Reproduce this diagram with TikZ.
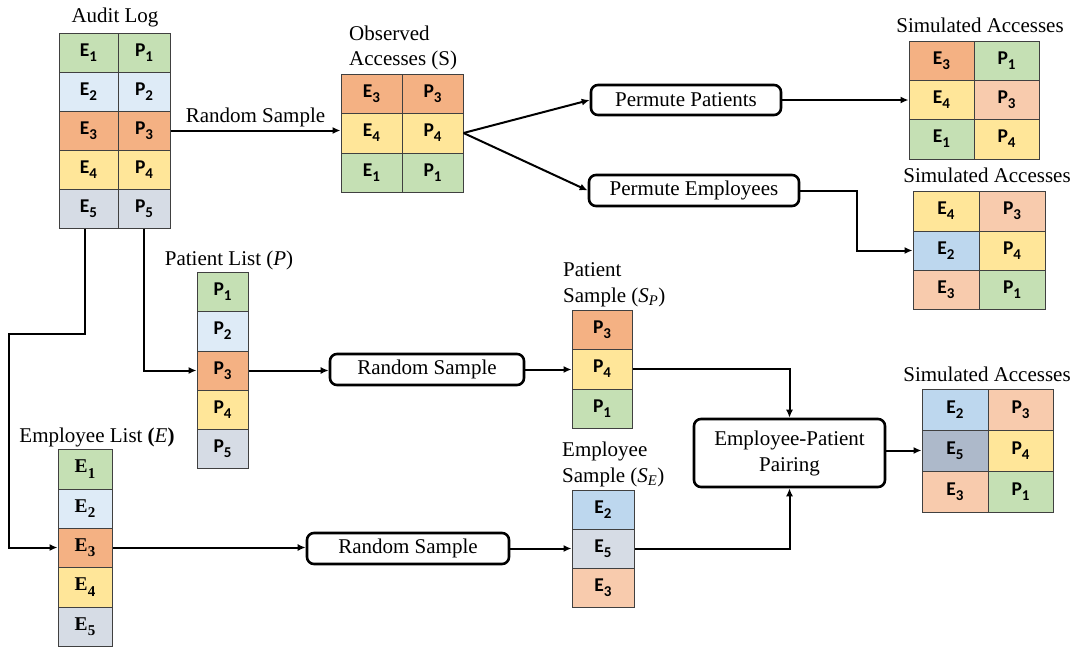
\documentclass[tikz,border=0pt]{standalone}
\usepackage{fontspec}
\setmainfont{Liberation Serif}
\newfontfamily\calib{Carlito}
\usetikzlibrary{arrows.meta}
\definecolor{cgreen}{HTML}{C5E0B4}
\definecolor{clblue}{HTML}{DEEBF7}
\definecolor{corange}{HTML}{F4B183}
\definecolor{cyellow}{HTML}{FFE699}
\definecolor{cgrey}{HTML}{D6DCE5}
\definecolor{cpeach}{HTML}{F8CBAD}
\definecolor{cblue}{HTML}{BDD7EE}
\definecolor{cslate}{HTML}{ADB9CA}
\definecolor{cborder}{HTML}{404040}
\newcommand\sbs[1]{\raisebox{-0.27em}{\fontsize{15}{15}\selectfont #1}}
\newcommand\cl[2]{{\calib\bfseries #1\sbs{#2}}}
\newcommand\tl[2]{{\bfseries #1\sbs{#2}}}
\newcommand\tcell[7]{\node[cellbox, fill=#6, minimum width={(#3-#2)*1pt}, minimum height={(#5-#4)*1pt}] (#1) at ({(#2+#3)/2},{(#4+#5)/2}) {#7};}
\tikzset{
  cellbox/.style={draw=cborder, line width=1pt, inner sep=0pt, font=\fontsize{19.5}{19.5}\selectfont},
  rbox/.style={draw=black, line width=2.6pt, rounded corners=7pt, inner sep=0pt, align=center, font=\fontsize{21}{26}\selectfont},
  lbl/.style={inner sep=0pt, font=\fontsize{21}{26}\selectfont},
  arr/.style={line width=2pt, -{Latex[length=8pt,width=7pt]}}
}
\begin{document}
\begin{tikzpicture}[x=1pt,y=-1pt]
\fill[white] (0,0) rectangle (1081,648);
\useasboundingbox (0,0) rectangle (1081,648);

% Audit log
\node[lbl, anchor=base] (tAudit) at (115,22) {Audit Log};
\tcell{aE1}{59}{118}{33}{72}{cgreen}{\cl{E}{1}}
\tcell{aP1}{118}{170}{33}{72}{cgreen}{\cl{P}{1}}
\tcell{aE2}{59}{118}{72}{111}{clblue}{\cl{E}{2}}
\tcell{aP2}{118}{170}{72}{111}{clblue}{\cl{P}{2}}
\tcell{aE3}{59}{118}{111}{150}{corange}{\cl{E}{3}}
\tcell{aP3}{118}{170}{111}{150}{corange}{\cl{P}{3}}
\tcell{aE4}{59}{118}{150}{189}{cyellow}{\cl{E}{4}}
\tcell{aP4}{118}{170}{150}{189}{cyellow}{\cl{P}{4}}
\tcell{aE5}{59}{118}{189}{228}{cgrey}{\cl{E}{5}}
\tcell{aP5}{118}{170}{189}{228}{cgrey}{\cl{P}{5}}

% Observed accesses
\node[lbl, anchor=base west] (tObs1) at (349,40) {Observed};
\node[lbl, anchor=base west] (tObs2) at (349,65) {Accesses (S)};
\tcell{oE3}{341}{402}{74}{113}{corange}{\cl{E}{3}}
\tcell{oP3}{402}{463}{74}{113}{corange}{\cl{P}{3}}
\tcell{oE4}{341}{402}{113}{153}{cyellow}{\cl{E}{4}}
\tcell{oP4}{402}{463}{113}{153}{cyellow}{\cl{P}{4}}
\tcell{oE1}{341}{402}{153}{192}{cgreen}{\cl{E}{1}}
\tcell{oP1}{402}{463}{153}{192}{cgreen}{\cl{P}{1}}

% Permute boxes
\node[rbox, minimum width=190pt, minimum height=30pt] (permP) at (686,100) {Permute Patients};
\node[rbox, minimum width=210pt, minimum height=31pt] (permE) at (694,190.5) {Permute Employees};

% Simulated 1
\node[lbl, anchor=base] (tSim1) at (980,32) {Simulated Accesses};
\tcell{s1ae}{909}{974}{41}{80}{corange}{\cl{E}{3}}
\tcell{s1ap}{974}{1039}{41}{80}{cgreen}{\cl{P}{1}}
\tcell{s1be}{909}{974}{80}{119}{cyellow}{\cl{E}{4}}
\tcell{s1bp}{974}{1039}{80}{119}{cpeach}{\cl{P}{3}}
\tcell{s1ce}{909}{974}{119}{159}{cgreen}{\cl{E}{1}}
\tcell{s1cp}{974}{1039}{119}{159}{cyellow}{\cl{P}{4}}

% Simulated 2
\node[lbl, anchor=base] (tSim2) at (987,182) {Simulated Accesses};
\tcell{s2ae}{913}{979}{191}{231}{cyellow}{\cl{E}{4}}
\tcell{s2ap}{979}{1045}{191}{231}{cpeach}{\cl{P}{3}}
\tcell{s2be}{913}{979}{231}{270}{cblue}{\cl{E}{2}}
\tcell{s2bp}{979}{1045}{231}{270}{cyellow}{\cl{P}{4}}
\tcell{s2ce}{913}{979}{270}{309}{cpeach}{\cl{E}{3}}
\tcell{s2cp}{979}{1045}{270}{309}{cgreen}{\cl{P}{1}}

% Patient list
\node[lbl, anchor=base] (tPL) at (229,265) {Patient List (\textit{P})};
\tcell{pP1}{197}{248}{272}{311}{cgreen}{\cl{P}{1}}
\tcell{pP2}{197}{248}{311}{351}{clblue}{\cl{P}{2}}
\tcell{pP3}{197}{248}{351}{390}{corange}{\cl{P}{3}}
\tcell{pP4}{197}{248}{390}{429}{cyellow}{\cl{P}{4}}
\tcell{pP5}{197}{248}{429}{468}{cgrey}{\cl{P}{5}}

% Employee list
\node[lbl, anchor=base] (tEL) at (97,442) {Employee List \textbf{(}\textit{E}\textbf{)}};
\tcell{eE1}{58}{112}{449}{489}{cgreen}{\tl{E}{1}}
\tcell{eE2}{58}{112}{489}{528}{clblue}{\tl{E}{2}}
\tcell{eE3}{58}{112}{528}{567}{corange}{\tl{E}{3}}
\tcell{eE4}{58}{112}{567}{607}{cyellow}{\tl{E}{4}}
\tcell{eE5}{58}{112}{607}{646}{cgrey}{\tl{E}{5}}

% Random sample boxes
\node[rbox, minimum width=194pt, minimum height=31pt] (rs1) at (427,369.5) {Random Sample};
\node[rbox, minimum width=202pt, minimum height=31pt] (rs2) at (408,548.5) {Random Sample};

% Patient sample
\node[lbl, anchor=base west] (tPS1) at (563,276) {Patient};
\node[lbl, anchor=base west] (tPS2) at (563,302) {Sample (\textit{S}\textsubscript{\textit{P}})};
\tcell{psP3}{572}{632}{310}{349}{corange}{\cl{P}{3}}
\tcell{psP4}{572}{632}{349}{389}{cyellow}{\cl{P}{4}}
\tcell{psP1}{572}{632}{389}{428}{cgreen}{\cl{P}{1}}

% Employee sample
\node[lbl, anchor=base west] (tES1) at (562,456) {Employee};
\node[lbl, anchor=base west] (tES2) at (562,482) {Sample (\textit{S}\textsubscript{\textit{E}})};
\tcell{esE2}{572}{634}{490}{529}{cblue}{\cl{E}{2}}
\tcell{esE5}{572}{634}{529}{568}{cgrey}{\cl{E}{5}}
\tcell{esE3}{572}{634}{568}{607}{cpeach}{\cl{E}{3}}

% Pairing
\node[rbox, minimum width=191pt, minimum height=68pt] (pair) at (789.5,453) {Employee-Patient\\Pairing};

% Simulated 3
\node[lbl, anchor=base] (tSim3) at (987,381) {Simulated Accesses};
\tcell{s3ae}{922}{988}{389}{430}{cblue}{\cl{E}{2}}
\tcell{s3ap}{988}{1053}{389}{430}{cpeach}{\cl{P}{3}}
\tcell{s3be}{922}{988}{430}{471}{cslate}{\cl{E}{5}}
\tcell{s3bp}{988}{1053}{430}{471}{cyellow}{\cl{P}{4}}
\tcell{s3ce}{922}{988}{471}{512}{cpeach}{\cl{E}{3}}
\tcell{s3cp}{988}{1053}{471}{512}{cgreen}{\cl{P}{1}}

% Connectors
\draw[arr] (aP3.east) -- (aP3.east -| oE4.west)
  node[lbl, pos=0.5, anchor=base, yshift=8pt] (lRS) {Random Sample};
\draw[arr] (oP4.east) -- (permP.west);
\draw[arr] (oP4.east) -- (permE.west);
\draw[arr] (permP.east) -- (permP.east -| s1be.west);
\draw[arr] (permE.east) -- ++(57,0) |- (s2be.west);
\draw[arr] ([xshift=-3.5pt]aE5.south) -- ++(0,105) -- ++(-76,0) |- (eE3.west);
\draw[arr] (aP5.south) |- (pP3.west);
\draw[arr] (pP3.east) -- (pP3.east -| rs1.west);
\draw[arr] (rs1.east) -- (rs1.east -| psP4.west);
\draw[arr] (eE3.east) -- (eE3.east -| rs2.west);
\draw[arr] (rs2.east) -- (rs2.east -| esE5.west);
\draw[arr] (psP4.east) -| (pair.north);
\draw[arr] (esE5.east) -| (pair.south);
\draw[arr] (pair.east |- s3be.west) -- (s3be.west);
\end{tikzpicture}
\end{document}
